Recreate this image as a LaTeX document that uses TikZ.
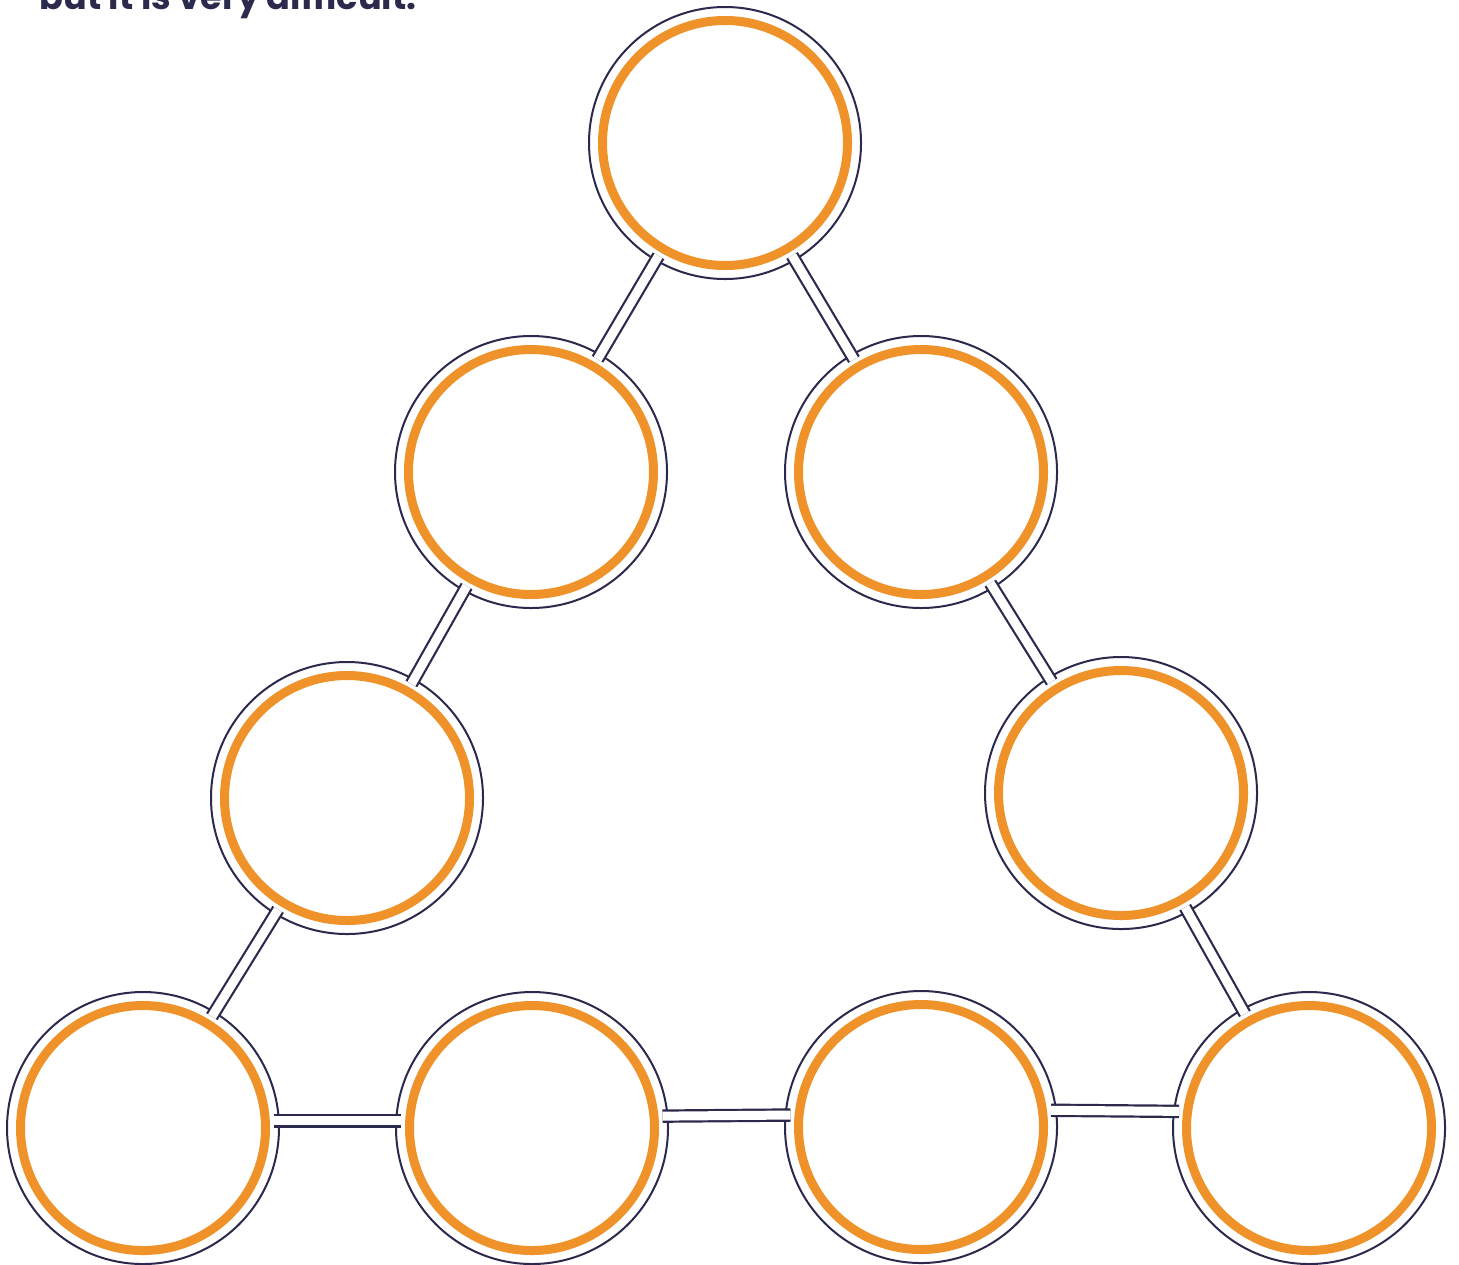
\documentclass[tikz,border=0pt]{standalone}
\usepackage{fontspec}
\usepackage{tikz}
\usepackage{xcolor}
\newfontfamily\headfont{Poppins}

\definecolor{navy}{HTML}{2B2A4C}
\definecolor{ringorange}{HTML}{F0922A}

\begin{document}
\begin{tikzpicture}[
  spot/.style={circle, draw=navy, line width=0.02cm, fill=white, minimum size=2.72cm, inner sep=0pt},
  ring/.style={draw=ringorange, line width=0.09cm},
  link/.style={draw=navy, line width=0.022cm, double=white, double distance=0.09cm, shorten <=-0.06cm, shorten >=-0.06cm}]
  \useasboundingbox (0,0) rectangle (14.59,-12.64);
  \clip (0,0) rectangle (14.59,-12.64);
  \node[anchor=base west, text=navy, inner sep=0pt, font=\headfont\bfseries\fontsize{10}{12}\selectfont] (head) at (0.39,-0.095) {but it is very difficult.};
  % the triangle of spots
  \node[spot] (top) at (7.25,-1.43) {};
  \node[spot] (l2) at (5.31,-4.72) {};
  \node[spot] (r2) at (9.21,-4.72) {};
  \node[spot] (l3) at (3.47,-7.98) {};
  \node[spot] (r3) at (11.21,-7.93) {};
  \node[spot] (b1) at (1.43,-11.28) {};
  \node[spot] (b2) at (5.32,-11.28) {};
  \node[spot] (b3) at (9.21,-11.27) {};
  \node[spot] (b4) at (13.09,-11.28) {};
  \draw[link] (top) -- (l2);
  \draw[link] (top) -- (r2);
  \draw[link] (l2) -- (l3);
  \draw[link] (r2) -- (r3);
  \draw[link] (l3) -- (b1);
  \draw[link] (r3) -- (b4);
  \draw[link] (b1.3) -- (b2.177);
  \draw[link] (b2.5) -- (b3.175);
  \draw[link] (b3.7) -- (b4.173);
  \foreach \n in {top,l2,r2,l3,r3,b1,b2,b3,b4}{ \draw[ring] (\n.center) circle (1.225); }
\end{tikzpicture}
\end{document}
